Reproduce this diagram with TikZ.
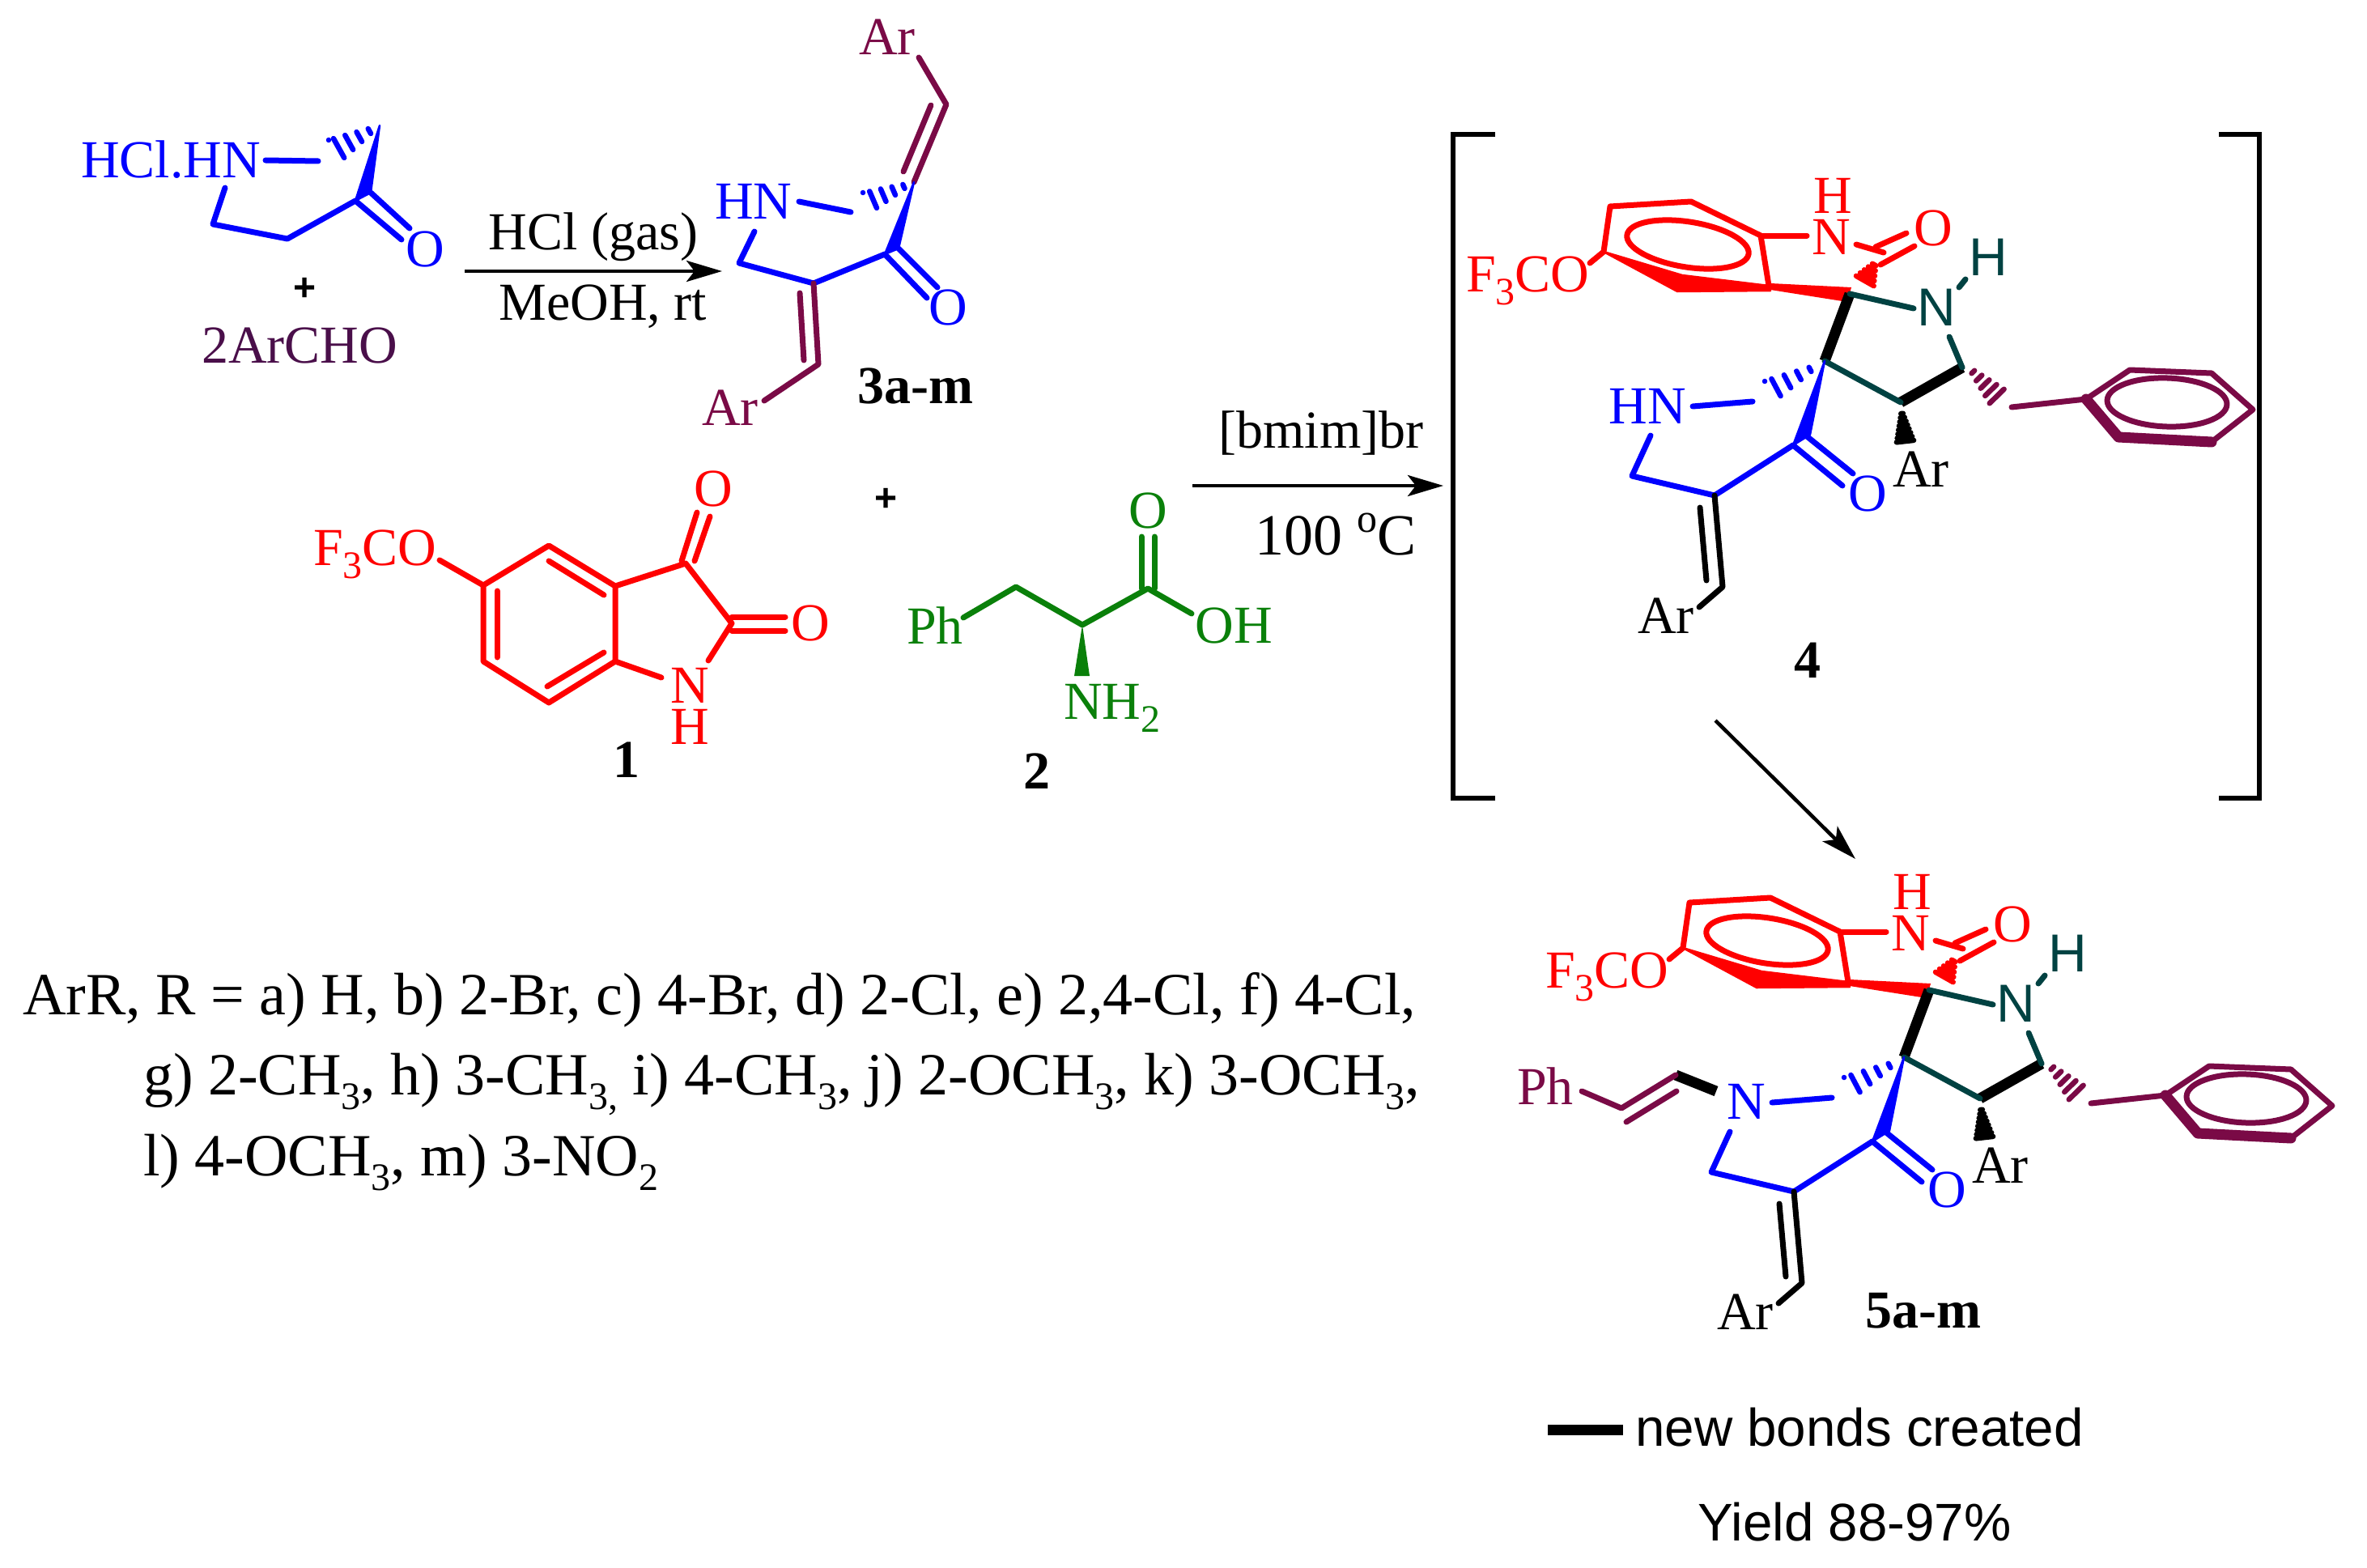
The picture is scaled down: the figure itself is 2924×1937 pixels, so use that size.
\documentclass[tikz,border=0pt]{standalone}
\usepackage{fontspec}
\setmainfont{Liberation Serif}
\newfontfamily\arialfont{Liberation Sans}
\usetikzlibrary{calc,arrows.meta}
\definecolor{cblue}{HTML}{0000FF}
\definecolor{cred}{HTML}{FF0000}
\definecolor{cgreen}{HTML}{0A800A}
\definecolor{cmaroon}{HTML}{7A0A46}
\definecolor{cteal}{HTML}{004242}
\definecolor{cplum}{HTML}{4A0F4A}
\newcommand\lsub[1]{\raisebox{-16pt}{\fontsize{48}{48}\selectfont #1}}
\newcommand\tsub[1]{\raisebox{-18pt}{\fontsize{48}{48}\selectfont #1}}
\newcommand\lsup[1]{\raisebox{28pt}{\fontsize{50}{50}\selectfont #1}}
% hashed wedge: options, apex, wide end, half width, number of strokes
\newcommand\hashwedge[5][]{%
  \foreach \hi in {1,...,#5}{%
    \pgfmathsetmacro\hfrac{\hi/#5}%
    \pgfmathsetmacro\hw{\hfrac*#4}%
    \draw[hashline,#1] ($(#2)!\hfrac!(#3)!\hw pt!90:(#3)$) -- ($(#2)!\hfrac!(#3)!\hw pt!-90:(#3)$);
  }%
}
\tikzset{
  bond/.style={line width=7pt,line cap=round,line join=round},
  new bond/.style={line width=13pt,line cap=butt,line join=round,black},
  hashline/.style={line width=6.5pt,line cap=round},
  lab/.style={inner sep=0pt,font=\fontsize{66}{66}\selectfont},
  labs/.style={inner sep=0pt,font=\arialfont\fontsize{66}{66}\selectfont},
  lbl/.style={inner sep=0pt,font=\bfseries\fontsize{66}{66}\selectfont},
  plus/.style={inner sep=0pt,font=\arialfont\bfseries\fontsize{48}{48}\selectfont},
  sans/.style={inner sep=0pt,font=\arialfont\fontsize{65.5}{66}\selectfont},
  txt/.style={inner sep=0pt,font=\fontsize{74}{74}\selectfont},
  rxn/.style={line width=4.5pt,-{Stealth[length=44pt,width=26pt,inset=10pt]}},
  brk/.style={line width=5.5pt,line join=miter},
  wedge fill/.style={line width=2.5pt,line join=round},
}
% the shared spiro skeleton of 4 and 5a-m (nitrogen label excluded)
\newcommand\spirocore{%
  % oxindole
  \coordinate (oa) at (1964,325); \coordinate (b1) at (1981,311);
  \coordinate (b2) at (1989,255); \coordinate (b3) at (2089,249);
  \coordinate (b4) at (2175,291); \coordinate (b5) at (2185,353);
  \coordinate (b6a) at (2078,340); \coordinate (b6b) at (2072,360);
  \coordinate (ne) at (2232,291); \coordinate (co1) at (2293,302);
  \coordinate (co2) at (2327,312); \coordinate (co2b) at (2317,305);
  \coordinate (co3) at (2355,288);
  \coordinate (co4) at (2323,327); \coordinate (co5) at (2365,304);
  \coordinate (ca) at (2285,363); \coordinate (hr1) at (2318,322);
  \coordinate (hr2) at (2301,352);
  \node[lab,text=cred,anchor=base west] (f3co) at (1811,360) {F\lsub{3}CO};
  \node[lab,text=cred] (nr) at (2262,293) {N};
  \node[lab,text=cred] (hr) at (2264,242) {H};
  \node[lab,text=cred] (or) at (2388,282) {O};
  \draw[bond,cred] (oa) -- (b1) -- (b2) -- (b3) -- (b4) -- (b5);
  \draw[bond,cred] (b4) -- (ne);
  \draw[bond,cred] (co1) -- (co2);
  \draw[bond,cred] (co2b) -- (co3);
  \draw[bond,cred] (co4) -- (co5);
  \filldraw[wedge fill,cred] (b1) -- (b6a) -- (b5) -- (2187,359) -- (b6b) -- cycle;
  \fill[cred] (2187,350) -- (2287,355) -- (2282,373) -- (2187,358) -- cycle;
  \draw[bond,cred] (2085,302) ellipse [x radius=76pt,y radius=28pt,rotate=-9];
  \hashwedge[cred]{hr1}{hr2}{15}{6}
  % pyrrolidine
  \coordinate (cb) at (2254,446); \coordinate (nt1) at (2364,381);
  \coordinate (nt2) at (2420,355); \coordinate (nt3) at (2428,345);
  \coordinate (nt4) at (2408,416); \coordinate (cc) at (2424,454);
  \coordinate (cd) at (2348,497);
  \node[labs,text=cteal] (nt) at (2392,380) {N};
  \node[labs,text=cteal] (ht) at (2456,318) {H};
  \draw[new bond] (ca) -- (cb);
  \draw[new bond] (cd) -- (cc);
  \draw[bond,cteal] (ca) -- (nt1);
  \draw[bond,cteal] (nt2) -- (nt3);
  \draw[bond,cteal] (nt4) -- (cc);
  \draw[bond,cteal] (cb) -- (cd);
  \coordinate (ha1) at (2349,506); \coordinate (ha2) at (2354,550);
  \hashwedge[black]{ha1}{ha2}{12}{9}
  \node[lab] (ar1) at (2373,580) {Ar};
  % benzyl
  \coordinate (hm1) at (2430,452); \coordinate (hm2) at (2474,497);
  \hashwedge[cmaroon]{hm1}{hm2}{15}{6}
  \coordinate (pa) at (2485,503); \coordinate (p1) at (2577,493);
  \coordinate (p2) at (2631,457); \coordinate (p3) at (2732,461);
  \coordinate (p4) at (2783,506); \coordinate (p5) at (2732,546);
  \coordinate (p6) at (2617,540);
  \draw[bond,cmaroon] (pa) -- (p1) -- (p2) -- (p3) -- (p4) -- (p5);
  \draw[line width=13pt,line join=round,line cap=round,cmaroon] (p1) -- (p6) -- (p5);
  \draw[bond,cmaroon] (2677,497) ellipse [x radius=74pt,y radius=30pt,rotate=-2];
  % blue lactam ring
  \coordinate (hb1) at (2250,449); \coordinate (hb2) at (2180,486);
  \hashwedge[cblue]{hb1}{hb2}{15}{5}
  \coordinate (nb1) at (2091,502); \coordinate (nb2) at (2165,496);
  \coordinate (nb3) at (2039,538); \coordinate (rb1) at (2016,588);
  \coordinate (rb2) at (2118,612); \coordinate (rb3) at (2215,550);
  \coordinate (rb4) at (2236,537); \coordinate (ob1) at (2276,600);
  \coordinate (ob2) at (2232,539); \coordinate (ob3) at (2289,585);
  \draw[bond,cblue] (nb1) -- (nb2);
  \draw[bond,cblue] (nb3) -- (rb1) -- (rb2) -- (rb3);
  \draw[bond,cblue] (rb3) -- (ob1);
  \draw[bond,cblue] (ob2) -- (ob3);
  \filldraw[wedge fill,cblue] (cb) -- (rb4) -- (rb3) -- cycle;
  \node[lab,text=cblue] (ob) at (2307,610) {O};
  % exocyclic alkene
  \coordinate (v1) at (2128,725); \coordinate (v2) at (2100,627);
  \coordinate (v3) at (2108,717); \coordinate (v4) at (2099,750);
  \draw[bond,black] (rb2) -- (v1) -- (v4);
  \draw[bond,black] (v2) -- (v3);
  \node[lab] (ar2) at (2058,761) {Ar};
}
\begin{document}
\begin{tikzpicture}[x=1pt,y=-1pt]
\useasboundingbox (0,0) rectangle (2924,1937);
\fill[white] (0,0) rectangle (2924,1937);

% --- piperidinone ---
\node[lab,text=cblue,anchor=base west] (hclhn) at (100,220) {HCl.HN};
\coordinate (a1) at (328,198); \coordinate (a2) at (393,199);
\coordinate (a3) at (469,155); \coordinate (a3h) at (406,190);
\coordinate (a4) at (439,248); \coordinate (a4b) at (458,238);
\coordinate (a5) at (278,232); \coordinate (a6) at (263,277);
\coordinate (a7) at (355,295); \coordinate (a8) at (496,296);
\coordinate (a9) at (506,282);
\draw[bond,cblue] (a1) -- (a2);
\hashwedge[cblue]{a3}{a3h}{17}{5}
\filldraw[wedge fill,cblue] (a3) -- (a4b) -- (a4) -- cycle;
\draw[bond,cblue] (a5) -- (a6) -- (a7) -- (a4) -- (a8);
\draw[bond,cblue] (a4b) -- (a9);
\node[lab,text=cblue] (oa1) at (525,308) {O};
\node[plus] (plus1) at (377,357) {+};
\node[lab,text=cplum] (archo) at (370,427) {2ArCHO};

% --- first arrow ---
\coordinate (r1s) at (574,335); \coordinate (r1e) at (892,335);
\draw[rxn] (r1s) -- (r1e);
\node[lab] (hclgas) at (733,293) {HCl (gas)};
\node[lab] (meoh) at (745,379) {MeOH, rt};

% --- 3a-m ---
\node[lab,text=cmaroon] (ar3a) at (1096,46) {Ar};
\coordinate (t1) at (1135,71); \coordinate (t2) at (1169,129);
\coordinate (t3) at (1129,225); \coordinate (t4) at (1150,130);
\coordinate (t5) at (1116,212); \coordinate (t6) at (1066,252);
\draw[bond,cmaroon] (t1) -- (t2) -- (t3);
\draw[bond,cmaroon] (t4) -- (t5);
\hashwedge[cblue]{t3}{t6}{14}{5}
\node[lab,text=cblue] (hn3) at (931,249) {HN};
\coordinate (t7) at (987,249); \coordinate (t8) at (1051,262);
\coordinate (t9) at (932,286); \coordinate (t10) at (913,325);
\coordinate (t11) at (1005,350); \coordinate (t12) at (1093,314);
\coordinate (t13) at (1110,307); \coordinate (t14) at (1145,368);
\coordinate (t15) at (1158,355);
\draw[bond,cblue] (t7) -- (t8);
\draw[bond,cblue] (t9) -- (t10) -- (t11) -- (t12) -- (t14);
\draw[bond,cblue] (t13) -- (t15);
\filldraw[wedge fill,cblue] (t3) -- (t13) -- (t12) -- cycle;
\node[lab,text=cblue] (o3) at (1171,380) {O};
\coordinate (t16) at (1011,450); \coordinate (t17) at (988,362);
\coordinate (t18) at (993,445); \coordinate (t19) at (944,495);
\draw[bond,cmaroon] (t11) -- (t16) -- (t19);
\draw[bond,cmaroon] (t17) -- (t18);
\node[lab,text=cmaroon] (ar3b) at (902,504) {Ar};
\node[lbl] (l3) at (1131,477) {3a-m};

% --- isatin 1 ---
\node[lab,text=cred,anchor=base west] (f3co1) at (387,698) {F\lsub{3}CO};
\coordinate (i0) at (543,692); \coordinate (i1) at (597,723);
\coordinate (i2) at (678,674); \coordinate (i3) at (760,724);
\coordinate (i4) at (760,817); \coordinate (i5) at (678,868);
\coordinate (i6) at (597,817); \coordinate (i7) at (847,696);
\coordinate (i8) at (904,770); \coordinate (i9) at (875,816);
\coordinate (i10) at (817,837);
\draw[bond,cred] (i0) -- (i1) -- (i2) -- (i3) -- (i4) -- (i5) -- (i6) -- (i1);
\draw[bond,cred] (i3) -- (i7) -- (i8) -- (i9);
\draw[bond,cred] (i4) -- (i10);
\draw[bond,cred] (678,693) -- (746,735);
\draw[bond,cred] (614,730) -- (614,812);
\draw[bond,cred] (676,848) -- (746,806);
\draw[bond,cred] (842,693) -- (861,633);
\draw[bond,cred] (858,693) -- (877,638);
\draw[bond,cred] (904,762) -- (970,762);
\draw[bond,cred] (904,779) -- (970,779);
\node[lab,text=cred] (o1t) at (881,604) {O};
\node[lab,text=cred] (o1r) at (1001,770) {O};
\node[lab,text=cred] (n1) at (852,847) {N};
\node[lab,text=cred] (h1) at (852,898) {H};
\node[lbl] (l1) at (774,939) {1};
\node[plus] (plus2) at (1095,617) {+};

% --- phenylalanine 2 ---
\node[lab,text=cgreen] (ph2) at (1155,773) {Ph};
\coordinate (g1) at (1190,763); \coordinate (g2) at (1255,725);
\coordinate (g3) at (1337,772); \coordinate (g4) at (1418,727);
\coordinate (g5) at (1472,758); \coordinate (g6) at (1327,835);
\coordinate (g7) at (1346,835);
\draw[bond,cgreen] (g1) -- (g2) -- (g3) -- (g4) -- (g5);
\draw[bond,cgreen] (1410,727) -- (1410,663);
\draw[bond,cgreen] (1426,727) -- (1426,663);
\fill[cgreen] (g3) -- (g7) -- (g6) -- cycle;
\node[lab,text=cgreen] (o2) at (1418,631) {O};
\node[lab,text=cgreen] (oh2) at (1524,773) {OH};
\node[lab,text=cgreen,anchor=base west] (nh2) at (1314,888) {NH\lsub{2}};
\node[lbl] (l2) at (1281,953) {2};

% --- second arrow ---
\coordinate (r2s) at (1473,600); \coordinate (r2e) at (1783,600);
\draw[rxn] (r2s) -- (r2e);
\node[lab] (bmim) at (1632,535) {[bmim]br};
\node[inner sep=0pt,font=\fontsize{72}{72}\selectfont] (temp) at (1650,660) {100 \lsup{o}C};

% --- brackets ---
\coordinate (bl1) at (1847,166); \coordinate (bl2) at (1795,166);
\coordinate (bl3) at (1795,986); \coordinate (bl4) at (1847,986);
\coordinate (br1) at (2741,166); \coordinate (br2) at (2791,166);
\coordinate (br3) at (2791,986); \coordinate (br4) at (2741,986);
\draw[brk] (bl1) -- (bl2) -- (bl3) -- (bl4);
\draw[brk] (br1) -- (br2) -- (br3) -- (br4);

% --- intermediate 4 ---
\begin{scope}[name prefix=k-]
  \spirocore
  \node[lab,text=cblue] (hn4) at (2035,502) {HN};
  \node[lbl] (l4) at (2233,816) {4};
\end{scope}

% --- third arrow ---
\coordinate (r3s) at (2119,890); \coordinate (r3e) at (2292,1061);
\draw[rxn] (r3s) -- (r3e);

% --- product 5a-m ---
\begin{scope}[shift={(98,860)},name prefix=m-]
  \spirocore
  \node[lab,text=cblue] (n5) at (2059,501) {N};
  \node[lab,text=cmaroon] (ph5) at (1811,482) {Ph};
  \coordinate (s1) at (1856,488); \coordinate (s2) at (1905,509);
  \coordinate (s3) at (1972,468); \coordinate (s4) at (1911,526);
  \coordinate (s5) at (1973,488); \coordinate (s6) at (2022,488);
  \draw[new bond] (s3) -- (s6);
  \draw[bond,cmaroon] (s1) -- (s2) -- (s3);
  \draw[bond,cmaroon] (s4) -- (s5);
  \node[lbl] (l5) at (2278,759) {5a-m};
\end{scope}

% --- legend ---
\coordinate (leg1) at (1912,1766); \coordinate (leg2) at (2005,1766);
\draw[line width=13pt] (leg1) -- (leg2);
\node[sans,anchor=west] (legt) at (2020,1763) {new bonds created};
\node[sans] (yield) at (2291,1880) {Yield 88-97\%};

% --- substituents ---
\node[txt,anchor=base west] (sub1) at (28,1253) {ArR, R = a) H, b) 2-Br, c) 4-Br, d) 2-Cl, e) 2,4-Cl, f) 4-Cl,};
\node[txt,anchor=base west] (sub2) at (177,1352) {g) 2-CH\tsub{3}, h) 3-CH\tsub{3,} i) 4-CH\tsub{3}, j) 2-OCH\tsub{3}, k) 3-OCH\tsub{3},};
\node[txt,anchor=base west] (sub3) at (177,1452) {l) 4-OCH\tsub{3}, m) 3-NO\tsub{2}};
\end{tikzpicture}
\end{document}
